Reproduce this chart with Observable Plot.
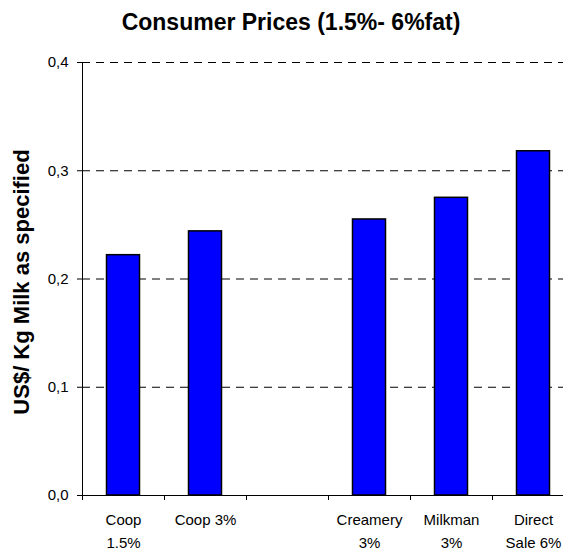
<!DOCTYPE html>
<html><head><meta charset="utf-8">
<script src="https://cdn.jsdelivr.net/npm/d3@7"></script>
<script src="https://cdn.jsdelivr.net/npm/@observablehq/plot@0.6"></script>
<style>
body{margin:0;background:#fff;font-family:"Liberation Sans",Arial,sans-serif;}
#wrap{width:563px;height:553px;overflow:hidden;position:relative;background:#fff}
#title{height:40px;line-height:44px;font-size:23px;font-weight:bold;text-align:center;padding-left:19px;box-sizing:border-box;width:563px;white-space:nowrap;color:#000}
</style></head><body><div id="wrap"><div id="title"></div><div id="chart"></div></div>
<script>
const title = "Consumer Prices (1.5%- 6%fat)";
const yTitle = "US$/ Kg Milk as specified";
const categories = ["Coop\n1.5%", "Coop 3%", "", "Creamery\n3%", "Milkman\n3%", "Direct\nSale 6%"];
const prices = [0.222, 0.244, null, 0.255, 0.275, 0.318];
const yTicks = [0, 0.1, 0.2, 0.3, 0.4];
const xBounds = [0, 1, 2, 3, 4, 5, 6];

const rows = categories.map((c, i) => ({i, label: c, price: prices[i]}));
const bars = rows.filter(d => d.price != null);

document.getElementById("title").textContent = title;

const chart = Plot.plot({
  width: 563, height: 513,
  marginTop: 22, marginBottom: 58, marginLeft: 82, marginRight: 0,
  style: {fontFamily: "'Liberation Sans', Arial, sans-serif", fontSize: "15px", color: "black", background: "white", overflow: "visible"},
  x: {domain: [0, 6], range: [82, 574]},
  y: {domain: [0, 0.4]},
  marks: [
    Plot.ruleY(yTicks.filter(v => v > 0), {y: d => d, stroke: "black", strokeDasharray: "8,6", strokeWidth: 1}),
    Plot.rectY(bars, {x1: "i", x2: d => d.i + 1, y: "price", fill: "#0000ff", stroke: "black", strokeWidth: 1.5, insetLeft: 24.5, insetRight: 24.5}),
    Plot.ruleY([0], {stroke: "black", strokeWidth: 1}),
    Plot.ruleX([0], {y1: 0, y2: 0.4, stroke: "black", strokeWidth: 1}),
    Plot.axisY({ticks: yTicks, tickSize: 5, tickPadding: 9, tickFormat: d => d.toFixed(1).replace(".", ","), label: null, fontSize: 15}),
    Plot.axisX({ticks: xBounds, tickSize: 5, tickFormat: () => "", label: null}),
    Plot.text(rows, {x: d => d.i + 0.5, y: () => 0, text: "label", dy: 13, lineAnchor: "top", lineHeight: 1.53, fontSize: 15}),
    Plot.text([yTitle], {text: d => d, frameAnchor: "left", textAnchor: "middle", rotate: -90, dx: -61, dy: 3, fontWeight: "bold", fontSize: 22})
  ]
});
document.getElementById("chart").appendChild(chart);
</script>
</body></html>
